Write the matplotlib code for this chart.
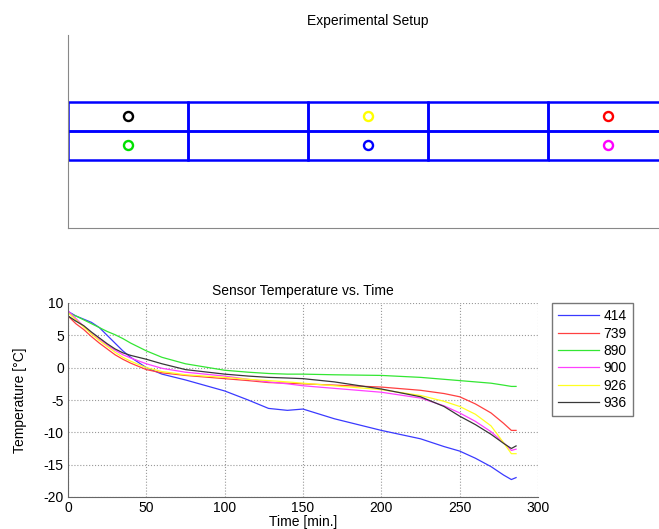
import matplotlib.pyplot as plt
from matplotlib.patches import Rectangle

plt.rcParams['font.family'] = ['Liberation Sans', 'DejaVu Sans']
plt.rcParams['axes.unicode_minus'] = False

# Zeitachse [min.]
time = [0, 5, 10, 15, 20, 25, 30, 35, 40, 50, 60, 75, 100, 115, 128, 140, 150,
        170, 200, 225, 240, 250, 260, 270, 278, 283, 286]

# Sensortemperaturen [°C]
t414 = [8.7, 8.0, 7.5, 7.0, 6.2, 5.0, 3.8, 2.6, 1.6, 0.0, -1.0, -1.9, -3.6, -5.0, -6.3,
        -6.6, -6.4, -7.9, -9.7, -11.0, -12.2, -12.9, -14.0, -15.3, -16.6, -17.3, -17.0]
t739 = [8.0, 6.8, 5.9, 4.8, 3.8, 2.9, 2.0, 1.3, 0.7, -0.3, -0.8, -1.2, -1.7, -2.0, -2.3,
        -2.4, -2.5, -2.7, -3.0, -3.5, -4.0, -4.5, -5.6, -7.0, -8.6, -9.7, -9.7]
t890 = [8.5, 8.0, 7.4, 6.8, 6.2, 5.6, 5.1, 4.5, 3.8, 2.6, 1.6, 0.6, -0.4, -0.7, -0.9,
        -1.0, -1.0, -1.1, -1.2, -1.5, -1.8, -2.0, -2.2, -2.4, -2.7, -2.9, -2.9]
t900 = [8.8, 7.6, 6.4, 5.3, 4.4, 3.5, 2.7, 2.0, 1.5, 0.6, -0.1, -0.7, -1.3, -1.8, -2.2,
        -2.5, -2.8, -3.2, -3.8, -4.7, -5.9, -7.0, -8.3, -9.9, -11.6, -12.8, -12.6]
t926 = [8.5, 7.4, 6.3, 5.2, 4.2, 3.3, 2.4, 1.6, 1.0, 0.0, -0.6, -1.1, -1.5, -1.8, -2.0,
        -2.2, -2.4, -2.8, -3.4, -4.3, -5.2, -6.0, -7.2, -9.0, -11.6, -13.3, -13.3]
t936 = [8.0, 7.2, 6.5, 5.5, 4.6, 3.7, 2.9, 2.3, 1.9, 1.3, 0.6, -0.3, -1.0, -1.3, -1.5,
        -1.6, -1.7, -2.2, -3.3, -4.5, -6.0, -7.5, -8.8, -10.3, -11.7, -12.5, -12.1]

sensors = ['414', '739', '890', '900', '926', '936']
series = [t414, t739, t890, t900, t926, t936]
colors = ['#3a3aff', '#ff4040', '#33e633', '#ff40ff', '#ffff20', '#383838']

# Sensorpositionen im Aufbau (Spalte, Zeile)
setup_cols = [0, 2, 4, 0, 2, 4]
setup_rows = [1, 1, 1, 0, 0, 0]
setup_colors = ['black', '#ffff00', 'red', '#00e000', 'blue', 'magenta']

fig = plt.figure(figsize=(6.59, 5.29), dpi=100)

# --- Versuchsaufbau ---
ax1 = fig.add_axes([68 / 659, 1 - 228 / 529, 600 / 659, 193 / 529])
ax1.set_xlim(0, 5)
ax1.set_ylim(-2.345, 4.31)
for c in range(5):
    for r in range(2):
        ax1.add_patch(Rectangle((c, r), 1, 1, fill=False, edgecolor='blue', lw=1.8))
for c, r, col in zip(setup_cols, setup_rows, setup_colors):
    ax1.plot(c + 0.5, r + 0.5, 'o', mfc='none', mec=col, mew=1.7, ms=6.5)
ax1.set_xticks([])
ax1.set_yticks([])
for s in ['top', 'right']:
    ax1.spines[s].set_visible(False)
for s in ['left', 'bottom']:
    ax1.spines[s].set_color('#888888')
ax1.set_title('Experimental Setup', fontsize=10, pad=7)

# --- Temperaturverlauf ---
ax2 = fig.add_axes([68 / 659, 1 - 497 / 529, 470 / 659, 194 / 529])
for name, vals, col in zip(sensors, series, colors):
    ax2.plot(time, vals, color=col, lw=0.9, label=name)
ax2.set_xlim(0, 300)
ax2.set_ylim(-20, 10)
ax2.set_xticks(range(0, 301, 50))
ax2.set_yticks(range(-20, 11, 5))
ax2.grid(True, linestyle=':', color='#999999', lw=0.8)
for s in ['top', 'right']:
    ax2.spines[s].set_visible(False)
for s in ['left', 'bottom']:
    ax2.spines[s].set_color('#666666')
ax2.tick_params(direction='in', length=0, labelsize=10, pad=3)
ax2.set_xlabel('Time [min.]', fontsize=10, labelpad=0)
ax2.set_ylabel('Temperature [°C]', fontsize=10, labelpad=12)
ax2.set_title('Sensor Temperature vs. Time', fontsize=10, pad=6)

fig.legend(loc='upper left', bbox_to_anchor=(552 / 659, 1 - 303 / 529),
           borderaxespad=0, fancybox=False, edgecolor='#777777', fontsize=10,
           handlelength=2.9, borderpad=0.45, labelspacing=0.24, handletextpad=0.35,
           framealpha=1)

fig.savefig('out.png', dpi=100)
